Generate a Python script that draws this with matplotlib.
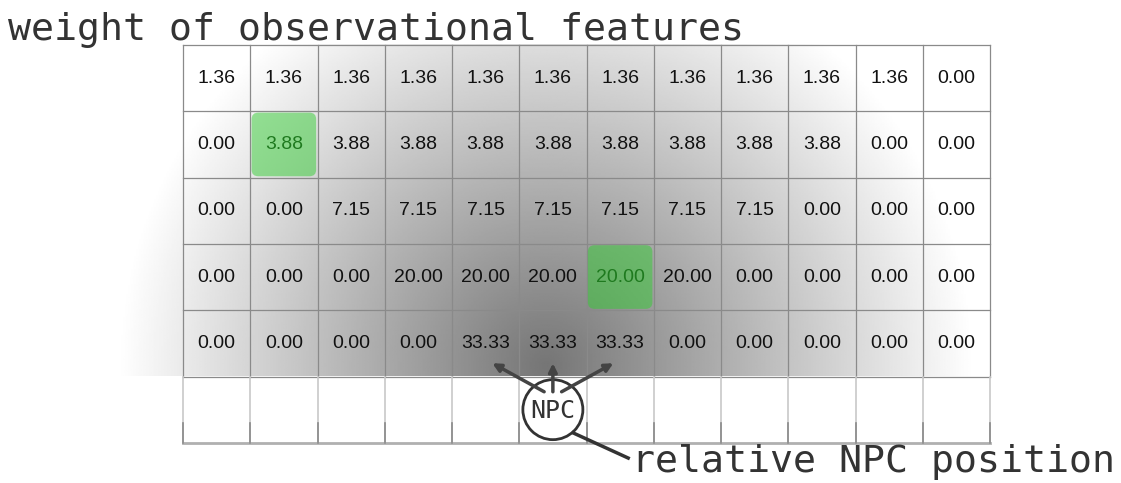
import numpy as np
import matplotlib.pyplot as plt
from matplotlib.patches import FancyBboxPatch, Ellipse

# weights per row of the 12 x 5 observation window (row 0 = farthest from NPC)
row0 = [1.36, 1.36, 1.36, 1.36, 1.36, 1.36, 1.36, 1.36, 1.36, 1.36, 1.36, 0.00]
row1 = [0.00, 3.88, 3.88, 3.88, 3.88, 3.88, 3.88, 3.88, 3.88, 3.88, 0.00, 0.00]
row2 = [0.00, 0.00, 7.15, 7.15, 7.15, 7.15, 7.15, 7.15, 7.15, 0.00, 0.00, 0.00]
row3 = [0.00, 0.00, 0.00, 20.00, 20.00, 20.00, 20.00, 20.00, 0.00, 0.00, 0.00, 0.00]
row4 = [0.00, 0.00, 0.00, 0.00, 33.33, 33.33, 33.33, 0.00, 0.00, 0.00, 0.00, 0.00]
weights = [row0, row1, row2, row3, row4]

# highlighted (row, col) cells
highlight = [(1, 1), (3, 6)]
# NPC sits in the empty bottom row
npc_col, npc_row = 5, 5

n_cols = len(row0)
n_rows = len(weights) + 1

# pixel size of one cell, used to map the figure onto cell units
cell_w, cell_h = 67.25, 66.3
left_px, top_px = 183, 45
W, H = 1121, 483

fig = plt.figure(figsize=(W / 100, H / 100), dpi=100)
ax = fig.add_axes([0, 0, 1, 1])
xmin = -left_px / cell_w
xmax = (W - left_px) / cell_w
ytop = -top_px / cell_h
ybot = (H - top_px) / cell_h

# radial grey shading around the NPC
cx, cy = npc_col + 0.4, npc_row - 0.15
xs = np.linspace(xmin, n_cols, 600)
ys = np.linspace(0, len(weights), 250)
X, Y = np.meshgrid(xs, ys)
d = np.hypot((X - cx) * cell_w, (Y - cy) * cell_h)
shade = 1 - 0.54 * np.clip(1 - d / 428, 0, 1)
ax.imshow(shade, extent=(xmin, n_cols, len(weights), 0), cmap='gray',
          vmin=0, vmax=1, interpolation='bilinear', aspect='auto', zorder=0)

# grid
for r in range(len(weights) + 1):
    ax.plot([0, n_cols], [r, r], color='#8a8a8a', lw=0.9, zorder=2)
ax.plot([0, n_cols], [n_rows, n_rows], color='#b0b0b0', lw=2, zorder=2)
for c in range(n_cols + 1):
    ax.plot([c, c], [0, len(weights)], color='#8a8a8a', lw=0.9, zorder=2)
    ax.plot([c, c], [len(weights), n_rows], color='#c8c8c8', lw=1.2, zorder=2)
    ax.plot([c, c], [n_rows - 0.3, n_rows], color='#8a8a8a', lw=1.2, zorder=2)

# highlighted cells
for r, c in highlight:
    ax.add_patch(FancyBboxPatch((c + 0.02, r + 0.02), 0.96, 0.96,
                                boxstyle='round,pad=0,rounding_size=0.1',
                                fc=(0.2, 0.8, 0.2), alpha=0.5, ec='none', zorder=3))

# cell values
for r, row in enumerate(weights):
    for c, v in enumerate(row):
        col = '#1f7a1f' if (r, c) in highlight else '#111111'
        ax.text(c + 0.5, r + 0.5, f'{v:.2f}', ha='center', va='center',
                fontsize=14, family='Liberation Sans', color=col, zorder=4)

# NPC marker
nx, ny = npc_col + 0.5, npc_row + 0.5
ax.add_patch(Ellipse((nx, ny), 2 * 30 / cell_w, 2 * 30 / cell_h, fc='white',
                     ec='#333333', lw=2, zorder=5))
ax.text(nx, ny + 0.02, 'NPC', ha='center', va='center', fontsize=18,
        family='DejaVu Sans Mono', color='#333333', zorder=6)

# arrows to the cells right above the NPC
for dc in (-1, 0, 1):
    tx, ty = nx + dc * 0.9, npc_row - 0.2
    sx, sy = nx + dc * 0.13, npc_row + 0.23
    ax.annotate('', xy=(tx, ty), xytext=(sx, sy), zorder=7,
                arrowprops=dict(arrowstyle='-|>', color='#444444', lw=2.5,
                                mutation_scale=12, shrinkA=0, shrinkB=0))

# leader line to the label
ax.plot([nx + 0.3, nx + 1.12], [ny + 0.35, ny + 0.73], color='#333333', lw=2.5,
        zorder=6, clip_on=False)
ax.text(nx + 1.18, 6.44, 'relative NPC position', ha='left', va='baseline',
        fontsize=27.5, family='DejaVu Sans Mono', color='#333333')

ax.text(-2.6, -0.075, 'weight of observational features', ha='left',
        va='baseline', fontsize=27.5, family='DejaVu Sans Mono', color='#333333')

ax.set_xlim(xmin, xmax)
ax.set_ylim(ybot, ytop)
ax.axis('off')

plt.savefig('out.png', dpi=100)
